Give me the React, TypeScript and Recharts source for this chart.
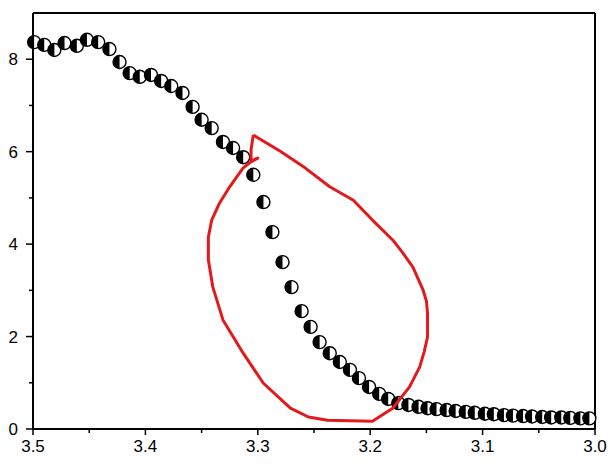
import { ScatterChart, Scatter, XAxis, YAxis, ReferenceLine } from "recharts";

const sweepX = [
  3.499, 3.49, 3.481, 3.472, 3.461, 3.452, 3.442, 3.432, 3.423, 3.414,
  3.405, 3.395, 3.386, 3.377, 3.367, 3.358, 3.35, 3.341, 3.331, 3.322,
  3.313, 3.304, 3.295, 3.287, 3.278, 3.27, 3.261, 3.253, 3.245, 3.236,
  3.227, 3.218, 3.21, 3.201, 3.192, 3.184, 3.175, 3.166, 3.157, 3.149,
  3.141, 3.132, 3.124, 3.115, 3.107, 3.098, 3.09, 3.081, 3.073, 3.064,
  3.056, 3.047, 3.039, 3.03, 3.022, 3.013, 3.005,
];
const sweepY = [
  8.37, 8.31, 8.2, 8.35, 8.29, 8.42, 8.37, 8.22, 7.94, 7.7,
  7.62, 7.66, 7.53, 7.42, 7.27, 6.97, 6.69, 6.51, 6.21, 6.08,
  5.88, 5.5, 4.91, 4.26, 3.61, 3.07, 2.55, 2.21, 1.88, 1.64,
  1.45, 1.28, 1.1, 0.91, 0.76, 0.65, 0.56, 0.52, 0.48, 0.45,
  0.43, 0.41, 0.39, 0.37, 0.35, 0.33, 0.32, 0.3, 0.29, 0.28,
  0.27, 0.26, 0.25, 0.25, 0.24, 0.23, 0.23,
];

// hand-drawn red loop
const loopX = [
  3.304, 3.28, 3.258, 3.236, 3.215, 3.198, 3.18, 3.171, 3.162, 3.153, 3.15, 3.149,
  3.149, 3.152, 3.156, 3.165, 3.18, 3.198, 3.238, 3.255, 3.271, 3.295,
  3.313, 3.331, 3.34, 3.344, 3.344, 3.341, 3.334, 3.325, 3.313, 3.306,
  3.3, 3.306, 3.306, 3.304,
];
const loopY = [
  6.36, 6.01, 5.65, 5.24, 4.95, 4.52, 4.09, 3.81, 3.5, 3.01, 2.77, 2.51,
  1.99, 1.67, 1.34, 0.91, 0.45, 0.17, 0.19, 0.26, 0.45, 0.99,
  1.64, 2.36, 3.07, 3.66, 4.15, 4.52, 4.89, 5.24, 5.65, 5.78,
  5.86, 5.8, 6.04, 6.36,
];

const xTicks = [3.5, 3.45, 3.4, 3.35, 3.3, 3.25, 3.2, 3.15, 3.1, 3.05, 3.0];
const yTicks = [0, 1, 2, 3, 4, 5, 6, 7, 8];

const sweep = sweepX.map((x, i) => ({ x, y: sweepY[i] }));
const loop = loopX.map((x, i) => ({ x, y: loopY[i] }));

const font = "'Liberation Sans', Arial, sans-serif";

function XTick({ x, y, payload }: any) {
  const major = Math.round(payload.value * 100) % 10 === 0;
  return (
    <g>
      <line x1={x} x2={x} y1={y} y2={y + (major ? 6 : 4)} stroke="#000" strokeWidth={1.5} />
      {major && (
        <text x={x} y={y + 23} textAnchor="middle" fontSize={17} fontFamily={font} fill="#000">
          {payload.value.toFixed(1)}
        </text>
      )}
    </g>
  );
}

function YTick({ x, y, payload }: any) {
  const major = payload.value % 2 === 0;
  return (
    <g>
      <line x1={x} x2={x - (major ? 7 : 4)} y1={y} y2={y} stroke="#000" strokeWidth={1.5} />
      {major && (
        <text x={x - 15} y={y + 6} textAnchor="end" fontSize={17} fontFamily={font} fill="#000">
          {payload.value}
        </text>
      )}
    </g>
  );
}

function HalfDot({ cx, cy }: any) {
  const r = 6.5;
  return (
    <g>
      <circle cx={cx} cy={cy} r={r} fill="#fff" stroke="#000" strokeWidth={1.4} />
      <path d={`M${cx},${cy - r} A${r},${r} 0 0 0 ${cx},${cy + r} Z`} fill="#000" />
    </g>
  );
}

export default function App() {
  return (
    <div style={{ position: "absolute", left: 0, top: 0, background: "#fff" }}>
      <ScatterChart width={613} height={467} margin={{ top: 13, right: 18, bottom: 0, left: 0 }}>
        <XAxis
          type="number"
          dataKey="x"
          domain={[3.0, 3.5]}
          reversed
          ticks={xTicks}
          interval={0}
          height={38}
          tickSize={0}
          tickMargin={0}
          tickLine={false}
          tick={<XTick />}
          axisLine={{ stroke: "#000", strokeWidth: 2 }}
        />
        <YAxis
          type="number"
          dataKey="y"
          domain={[0, 9]}
          ticks={yTicks}
          interval={0}
          width={33}
          tickSize={0}
          tickMargin={0}
          tickLine={false}
          tick={<YTick />}
          axisLine={{ stroke: "#000", strokeWidth: 2 }}
        />
        <ReferenceLine y={9} stroke="#000" strokeWidth={2} />
        <ReferenceLine x={3.0} stroke="#000" strokeWidth={2} />
        <Scatter data={sweep} shape={<HalfDot />} isAnimationActive={false} />
        <Scatter
          data={loop}
          line={{ stroke: "#e31a1c", strokeWidth: 3, strokeLinejoin: "round" }}
          lineType="joint"
          shape={() => <g />}
          isAnimationActive={false}
        />
      </ScatterChart>
    </div>
  );
}
